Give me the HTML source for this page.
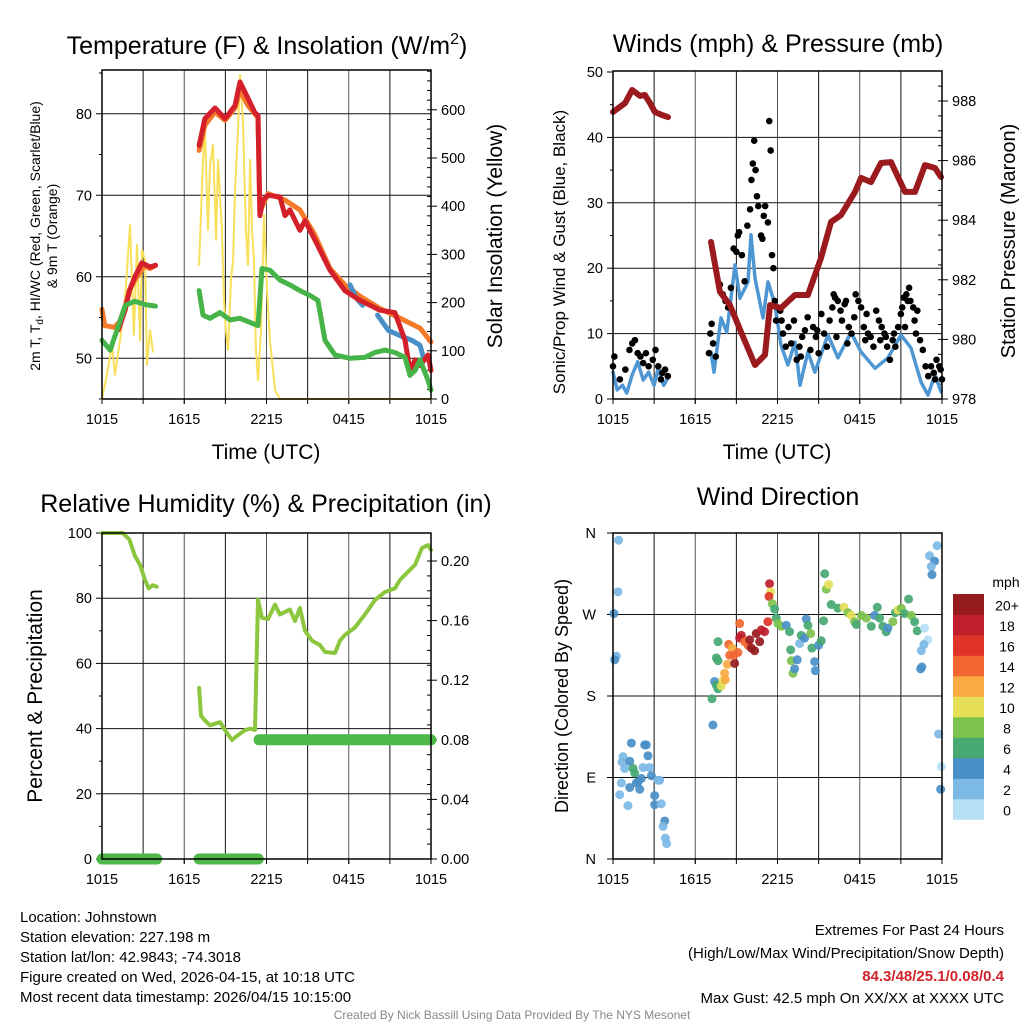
<!DOCTYPE html>
<html><head><meta charset="utf-8"><title>Mesonet Johnstown</title>
<style>
html,body{margin:0;padding:0;background:#fff;width:1024px;height:1024px;overflow:hidden}
svg{display:block;font-family:"Liberation Sans",Arial,sans-serif}
</style></head><body>
<svg id="fig" width="1024" height="1024" viewBox="0 0 1024 1024" xmlns="http://www.w3.org/2000/svg">
<g id="p1"></g>
<g id="p2"></g>
<g id="p3"></g>
<g id="p4"></g>
<g id="txt" font-size="15" fill="#000">
<text x="20" y="922">Location: Johnstown</text>
<text x="20" y="942">Station elevation: 227.198 m</text>
<text x="20" y="962">Station lat/lon: 42.9843; -74.3018</text>
<text x="20" y="982">Figure created on Wed, 2026-04-15, at 10:18 UTC</text>
<text x="20" y="1002">Most recent data timestamp: 2026/04/15 10:15:00</text>
<text x="1004" y="935" text-anchor="end">Extremes For Past 24 Hours</text>
<text x="1004" y="958" text-anchor="end">(High/Low/Max Wind/Precipitation/Snow Depth)</text>
<text x="1004" y="981" text-anchor="end" fill="#d0232a" font-weight="bold">84.3/48/25.1/0.08/0.4</text>
<text x="1004" y="1003" text-anchor="end">Max Gust: 42.5 mph On XX/XX at XXXX UTC</text>
<text x="512" y="1019" text-anchor="middle" font-size="12" fill="#888">Created By Nick Bassill Using Data Provided By The NYS Mesonet</text>
</g>
</svg>
<script>
// ---- shared time axis ----
const xTickHours=[0,6,12,18,24];
const xTickLabels=["1015","1615","2215","0415","1015"];
// ---- panel 1 data (hours since 1015 UTC) ----
const t9mA=[0,0.2,0.9,1.3,1.7,2.0,2.4,2.8,3.1,3.5,3.9];
const v9mA=[56,54,53.8,54.5,56.5,58.3,59.6,60.6,61.4,61,61.4];
const t9mB=[7.08,7.51,8.24,8.97,9.7,10.07,10.65,11.38,11.52,12.11,13.35,14.44,15.54,16.63,17.72,18.82,20.28,21.74,23.2,24];
const v9mB=[75.5,78.6,80.2,79.2,80.7,82.9,81,79.5,68,70.2,69.4,68.2,65.1,61,59,57.6,56.1,54.9,53.7,52];
const tTA=[1.2,1.7,2.0,2.4,2.9,3.5,3.9];
const vTA=[53.5,56,58.3,60,61.7,61.2,61.4];
const tTB=[7.08,7.51,8.24,8.97,9.7,10.07,10.65,11.16,11.38,11.52,11.74,12.11,12.98,13.35,13.71,14.44,14.81,15.54,16.63,17.72,18.82,19.55,20.28,21.37,22.1,22.47,22.83,23.2,23.78,24];
const vTB=[76.1,79.4,80.7,79.4,81,83.9,81.9,80.1,79.8,67.5,69.4,70,69.8,67.5,68.2,65.7,66.9,64.5,60.8,58.3,57.1,56.5,55.9,55.6,52.2,48.5,49.8,49.1,50.4,48.5];
const tTdA=[0,0.6,1.2,1.7,2.4,3.1,3.9];
const vTdA=[52.2,51,54,56.5,57,56.6,56.4];
const tTdB=[7.08,7.37,7.88,8.61,9.34,10.07,10.8,11.38,11.67,12.25,12.98,13.71,14.44,15.17,15.75,16.27,17,18.09,19.18,19.91,20.64,21.37,22.1,22.47,22.83,23.2,23.78,24];
const vTdB=[58.3,55.3,54.9,55.6,54.7,54.9,54.4,54,61,60.8,59.6,59,58.3,57.7,57.1,52.2,50.4,50,50.1,50.7,51,50.7,50.1,47.9,48.5,49.8,47.3,46.1];
const tHIA=[18.1,18.5,19.0];
const vHIA=[59,57.5,56.5];
const tHIB=[20.1,20.9,21.7,22.6,23.2,23.5];
const vHIB=[55.3,53.4,52.8,52.2,51.6,49.8];
const tSolA=[0,0.36,0.73,0.95,1.31,1.68,2.04,2.33,2.55,2.77,2.92,3.14,3.28,3.5,3.72];
const vSolA=[0,50,112,50,122,205,361,133,320,122,309,288,71,143,98];
const tSolB=[7.08,7.37,7.51,7.73,7.88,8.1,8.32,8.46,8.75,8.9,9.04,9.19,9.41,9.56,9.7,9.92,10.07,10.28,10.5,10.65,10.8,10.94,11.09,11.23,11.38,11.6,11.82,12.04,12.25,12.62,12.98,24];
const vSolB=[278,496,558,351,485,527,330,496,351,205,143,102,247,288,434,558,672,579,351,278,496,351,288,102,39,143,382,226,122,19,0,0];
// ---- panel 2 data ----
const tPresA=[0,0.88,1.39,1.97,2.33,2.7,3.06,3.57,4.01];
const vPresA=[987.63,987.93,988.37,988.17,988.2,987.93,987.63,987.53,987.46];
const tPresB=[7.15,7.8,8.53,9.34,10.36,11.09,11.45,12.25,13.28,14.22,15.17,15.9,16.63,17.65,18.09,18.82,19.55,20.28,21.3,22.03,22.76,23.49,23.93];
const vPresB=[983.27,981.6,981.15,980.25,979.14,979.48,981.15,981.05,981.49,981.49,982.73,983.94,984.17,984.95,985.42,985.28,985.92,985.95,984.95,984.95,985.85,985.75,985.45];
const tWindA=[0,0.3,0.7,1.0,1.4,1.8,2.2,2.6,3.0,3.3,3.7,4.0];
const vWindA=[4.1,1.4,2.1,0.9,3.7,5.7,2.9,4.1,2.1,4.7,2.1,3.2];
const tWindB=[7.15,7.37,7.88,8.3,8.9,9.26,9.85,10.07,10.36,10.94,11.31,11.82,12.25,12.76,13.28,13.64,14.22,14.73,15.68,16.41,17.36,18.09,19.11,20.06,21.01,21.74,22.47,22.98,23.49,23.93];
const vWindB=[7.2,4.1,12.4,10.2,20.5,15.4,17.9,25.1,18.5,12.4,17.9,14.4,8.3,5.2,8.7,2.1,7.2,4.1,9.8,6.3,10.2,7.2,4.7,6.3,9.8,7.8,2.6,0.6,3.7,1.1];
const tGust=[0,0.1,0.5,0.9,1.2,1.4,1.6,1.8,2.0,2.2,2.4,2.6,2.9,3.1,3.3,3.5,3.6,3.8,4.0,
7.0,7.1,7.2,7.3,7.5,7.8,8.0,8.2,8.4,8.6,8.8,9.0,9.1,9.2,9.4,9.6,9.8,10.0,10.1,10.2,10.3,10.4,10.5,10.6,10.8,10.9,11.0,11.1,11.3,11.4,11.5,11.6,11.7,11.8,11.9,12.0,12.2,12.3,12.4,12.6,12.8,13.0,13.2,13.4,13.6,13.7,13.8,14.0,14.2,14.4,14.6,14.8,14.9,15.0,15.2,15.4,15.6,15.8,16.0,16.1,16.2,16.3,16.4,16.6,16.7,16.9,17.0,17.1,17.2,17.4,17.6,17.7,17.9,18.1,18.3,18.4,18.5,18.6,18.8,19.0,19.2,19.4,19.5,19.6,19.8,19.9,20.0,20.2,20.4,20.5,20.6,20.8,21.0,21.1,21.2,21.3,21.4,21.5,21.6,21.7,21.9,22.0,22.1,22.2,22.4,22.6,22.8,23.0,23.2,23.4,23.5,23.6,23.8,23.9,24.0];
const vGust=[5,6.5,3,4.5,7.5,8.5,9,7,6.5,5.5,7,5,6,7.5,5,3,4,4.5,3.5,
7,10,11.5,8.5,6.5,17.5,16,15,14,17,23,22.5,25,25.5,22,18,26.5,29,33.5,36,39.5,35,31,29.5,25,24.5,28,29.5,27,42.5,38,22,20,15,12,14,13.5,12,10,8,11,8.5,12,6,8,6.5,9.5,10.5,12.5,7.5,11,9.5,10.5,7,13,10,8,12,14,16,15.5,9.5,15,13.5,12,14.5,15,8.5,11,10,12.5,16,15,14,11,9,13,10,9.5,8,13.5,12,9,11,10,9.5,8,6,9,10,8,11,13,14,15.5,11,16,15,17,15,14,12,10,13.5,9,7.5,5,3.5,5,4,3,6,5,4.5,3];
// ---- panel 3 data ----
const tRHA=[0,1.5,2.0,2.4,2.8,3.1,3.4,3.7,4.0];
const vRHA=[100,100,98,93,90,86,83,84,83.5];
const tRHB=[7.08,7.22,7.51,7.88,8.24,8.61,8.97,9.48,9.92,10.43,10.8,11.16,11.38,11.67,12.11,12.62,12.98,13.35,13.71,14.08,14.44,14.81,15.32,15.9,16.27,17,17.36,17.72,18.45,19.18,19.91,20.64,21.37,21.74,22.47,22.83,23.34,23.78,24];
const vRHB=[52.5,44,42.5,41,41.5,42,39.5,36.5,38,39.5,40,39.6,79.5,74,73.6,78,75,75.8,76.5,73,77,70,67,65.6,63.5,63.2,67,68.7,71,75,79.4,81.9,83,85.6,88.7,90.2,95.4,96.3,94.8];
const tPrecip=[0,4,7.08,11.4,11.45,24];
const vPrecip=[0,0,0,0,0.08,0.08];
// ---- panel 4 data: time, direction (deg), speed (mph) ----
const tDir=[0.41,0.36,0.07,0.24,0.12,1.34,0.73,0.66,0.85,1.22,1.46,1.58,2.31,2.43,2.55,2.19,2.67,1.82,2.07,1.70,2.80,3.28,3.40,0.61,0.49,1.09,1.22,1.95,3.04,3.04,3.52,3.77,3.65,3.82,3.91,
7.29,7.22,7.41,7.54,7.66,7.90,8.02,8.14,8.19,8.34,8.87,7.54,7.66,7.66,8.44,8.68,8.51,8.82,9.11,9.24,9.36,9.24,9.60,9.85,9.97,10.09,10.33,10.45,10.70,10.82,11.06,11.30,11.42,11.50,11.38,11.62,11.79,11.91,12.03,12.28,12.64,12.88,12.96,13.01,13.13,13.25,13.44,13.61,13.73,13.98,14.10,14.22,14.42,14.51,14.71,14.76,15.00,15.19,15.36,15.44,15.56,15.73,15.92,16.41,16.85,17.14,17.38,17.62,17.75,18.11,18.48,18.84,19.08,19.28,19.45,19.69,19.93,20.05,20.42,20.59,20.78,21.03,21.27,21.56,21.76,22.00,22.19,22.73,22.97,22.68,22.49,22.44,22.53,23.09,23.65,23.46,23.22,23.27,23.75,23.95,23.90];
const dDir=[352,295,271,224,220,128,113,107,100,108,100,95,126,126,114,101,101,85,89,84,92,87,87,84,71,59,79,77,70,60,61,42,36,23,17,
148,177,196,192,188,191,197,205,198,215,216,222,219,240,237,233,225,225,228,260,247,244,240,236,242,233,230,249,240,253,251,262,304,295,290,282,276,266,260,257,258,251,231,219,205,210,220,238,247,244,265,258,249,233,218,208,236,241,263,315,298,303,281,277,278,272,269,262,259,269,266,257,269,278,266,257,251,255,262,272,275,277,271,287,269,262,252,255,242,237,230,210,212,335,346,329,323,314,138,102,77];
const sDir=[3,3,5,3,5,5,3,3,3,5,7,7,5,5,5,3,3,5,5,5,5,3,3,3,3,3,5,5,5,5,3,5,3,3,3,
5,7,5,7,7,11,11,13,13,13,21,7,7,7,15,13,15,15,15,15,19,19,15,15,21,21,21,21,21,19,19,17,19,11,17,9,7,7,9,9,5,7,7,9,9,5,5,3,7,5,5,7,9,7,5,5,5,7,7,7,9,11,7,7,11,9,11,9,7,9,9,7,5,7,7,7,7,5,9,7,11,9,7,7,9,7,7,1,1,3,3,5,5,3,3,5,3,5,3,1,5];
const cbLabels=["0","2","4","6","8","10","12","14","16","18","20+"];
const cbColors=["#b6e0f6","#7cb9e5","#4a8fc7","#47a872","#7dc24d","#e5df58","#f9aa42","#f16630","#df3427","#bf1e2d","#951b1e"];

const NS="http://www.w3.org/2000/svg";
function el(parent,tag,attrs){const e=document.createElementNS(NS,tag);for(const k in attrs)e.setAttribute(k,attrs[k]);parent.appendChild(e);return e;}
function txt(parent,x,y,s,attrs){const e=el(parent,"text",Object.assign({x:x,y:y},attrs||{}));e.textContent=s;return e;}

function panel(g,X0,X1,Y0,Y1){
  const xs=t=>X0+t*(X1-X0)/24;
  for(let h=3;h<24;h+=3){const l=el(g,"line",{x1:xs(h),x2:xs(h),y1:Y0,y2:Y1,stroke:(h%6==0?"#555":"#111"),"stroke-width":1});
    
    }
  xTickHours.forEach((h,i)=>{el(g,"line",{x1:xs(h),x2:xs(h),y1:Y1,y2:Y1+5,stroke:"#000"});
    const t=txt(g,xs(h),Y1+25,xTickLabels[i],{"font-size":"14.5","text-anchor":"middle"});
    
    });
  for(let h=3;h<24;h+=3){el(g,"line",{x1:xs(h),x2:xs(h),y1:Y1,y2:Y1+5,stroke:"#000"});}
  return xs;
}
function hgrid(g,X0,X1,ys){ys.forEach(y=>{const l=el(g,"line",{x1:X0,x2:X1,y1:y,y2:y,stroke:"#111","stroke-width":1});
  
  });}
function frame(g,X0,X1,Y0,Y1){const r=el(g,"rect",{x:X0,y:Y0,width:X1-X0,height:Y1-Y0,fill:"none",stroke:"#000","stroke-width":1.5});
  
  }
function series(g,ts,vs,xs,ys,color,w,name){
  const d=ts.map((t,i)=>(i?"L":"M")+xs(t).toFixed(1)+","+ys(vs[i]).toFixed(1)).join("");
  const p=el(g,"path",{d:d,fill:"none",stroke:color,"stroke-width":w,"stroke-linejoin":"round","stroke-linecap":"round"});
  
  
  return p;}
function leftTicks(g,X,vals,ys,fmt,minor){
  vals.forEach(v=>{el(g,"line",{x1:X-6,x2:X,y1:ys(v),y2:ys(v),stroke:"#000"});
    const t=txt(g,X-10,ys(v)+5,fmt(v),{"font-size":"14.5","text-anchor":"end"});
    
    });
  (minor||[]).forEach(v=>el(g,"line",{x1:X-3,x2:X,y1:ys(v),y2:ys(v),stroke:"#000"}));}
function rightTicks(g,X,vals,ys,fmt,minor){
  vals.forEach(v=>{el(g,"line",{x1:X,x2:X+6,y1:ys(v),y2:ys(v),stroke:"#000"});
    const t=txt(g,X+10,ys(v)+5,fmt(v),{"font-size":"14.5","text-anchor":"start"});
    
    });
  (minor||[]).forEach(v=>el(g,"line",{x1:X-4,x2:X,y1:ys(v),y2:ys(v),stroke:"#000"}));}
function range(a,b,s){const r=[];for(let v=a;v<=b+1e-9;v+=s)r.push(+v.toFixed(4));return r;}

// ===== Panel 1 =====
(function(){
 const g=document.getElementById("p1");const X0=102,X1=431,Y0=70,Y1=399;
 const yT=v=>Y1-(v-45)*8.15, yS=v=>Y1-v*0.482;
 const xs=panel(g,X0,X1,Y0,Y1);
 hgrid(g,X0,X1,[50,60,70,80].map(yT));
 leftTicks(g,X0,[50,60,70,80],yT,v=>String(v),[45,55,65,75,85]);
 rightTicks(g,X1,range(0,600,100),yS,v=>String(v),range(20,680,20));
 series(g,tSolA,vSolA,xs,yS,"#f9e05a",2,"solar-line");
 series(g,tSolB,vSolB,xs,yS,"#f9e05a",2,"solar-line");
 series(g,t9mA,v9mA,xs,yT,"#f47a2a",5,"temp-9m-line");
 series(g,t9mB,v9mB,xs,yT,"#f47a2a",5,"temp-9m-line");
 series(g,tHIA,vHIA,xs,yT,"#4a90c8",5,"heat-index-line");
 series(g,tHIB,vHIB,xs,yT,"#4a90c8",5,"heat-index-line");
 series(g,tTA,vTA,xs,yT,"#d4202a",5,"temp-2m-line");
 series(g,tTB,vTB,xs,yT,"#d4202a",5,"temp-2m-line");
 series(g,tTdA,vTdA,xs,yT,"#46b449",5,"dewpoint-line");
 series(g,tTdB,vTdB,xs,yT,"#46b449",5,"dewpoint-line");
 frame(g,X0,X1,Y0,Y1);
 const tt=txt(g,267,54,"Temperature (F) & Insolation (W/m",{"font-size":"25","text-anchor":"middle"});
 const sup=el(tt,"tspan",{dy:"-10","font-size":"16"});sup.textContent="2";
 const cl=el(tt,"tspan",{dy:"10"});cl.textContent=")";
 
 txt(g,266,459,"Time (UTC)",{"font-size":"21","text-anchor":"middle",});
 const yl=txt(g,0,0,"",{"font-size":"14","text-anchor":"middle",transform:"translate(40,236) rotate(-90)",});
 yl.innerHTML='2m T, T<tspan font-size="10" dy="3">d</tspan><tspan dy="-3">, HI/WC (Red, Green, Scarlet/Blue)</tspan>';
 txt(g,0,0,"& 9m T (Orange)",{"font-size":"14","text-anchor":"middle",transform:"translate(57,236) rotate(-90)",});
 txt(g,0,0,"Solar Insolation (Yellow)",{"font-size":"21","text-anchor":"middle",transform:"translate(502,236) rotate(-90)",});
})();

// ===== Panel 2 =====
(function(){
 const g=document.getElementById("p2");const X0=613,X1=942,Y0=71,Y1=399;
 const yW=v=>Y1-v*6.54, yP=p=>Y1-(p-978)*29.8;
 const xs=panel(g,X0,X1,Y0,Y1);
 hgrid(g,X0,X1,[10,20,30,40].map(yW));
 leftTicks(g,X0,range(0,50,10),yW,v=>String(v),range(5,45,10));
 rightTicks(g,X1,range(978,988,2),yP,v=>String(v),range(978.5,988.5,0.5));
 series(g,tWindA,vWindA,xs,yW,"#4f97d2",3.5,"sonic-wind-line");
 series(g,tWindB,vWindB,xs,yW,"#4f97d2",3.5,"sonic-wind-line");
 tGust.forEach((t,i)=>{const c=el(g,"circle",{cx:xs(t),cy:yW(vGust[i]),r:3.3,fill:"#000"});
   
   });
 series(g,tPresA,vPresA,xs,yP,"#9b1a1e",6,"pressure-line");
 series(g,tPresB,vPresB,xs,yP,"#9b1a1e",6,"pressure-line");
 frame(g,X0,X1,Y0,Y1);
 txt(g,778,52,"Winds (mph) & Pressure (mb)",{"font-size":"25","text-anchor":"middle",});
 txt(g,777,459,"Time (UTC)",{"font-size":"21","text-anchor":"middle",});
 txt(g,0,0,"Sonic/Prop Wind & Gust (Blue, Black)",{"font-size":"17","text-anchor":"middle",transform:"translate(565,252) rotate(-90)",});
 txt(g,0,0,"Station Pressure (Maroon)",{"font-size":"20","text-anchor":"middle",transform:"translate(1015,241) rotate(-90)",});
})();

// ===== Panel 3 =====
(function(){
 const g=document.getElementById("p3");const X0=102,X1=431,Y0=533,Y1=859;
 const yR=v=>Y1-v*3.26, yPr=v=>Y1-v*1490;
 const xs=panel(g,X0,X1,Y0,Y1);
 hgrid(g,X0,X1,[20,40,60,80].map(yR));
 leftTicks(g,X0,range(0,100,20),yR,v=>String(v),range(10,90,20));
 rightTicks(g,X1,range(0,0.2,0.04),yPr,v=>v.toFixed(2),range(0.01,0.21,0.01));
 series(g,tPrecip.slice(0,2),vPrecip.slice(0,2),xs,yPr,"#4db848",11,"precip-line");
 series(g,tPrecip.slice(2,4),vPrecip.slice(2,4),xs,yPr,"#4db848",11,"precip-line");
 series(g,tPrecip.slice(4),vPrecip.slice(4),xs,yPr,"#4db848",11,"precip-line");
 series(g,tRHA,vRHA,xs,yR,"#8cc63e",4,"rh-line");
 series(g,tRHB,vRHB,xs,yR,"#8cc63e",4,"rh-line");
 frame(g,X0,X1,Y0,Y1);
 txt(g,266,512,"Relative Humidity (%) & Precipitation (in)",{"font-size":"25","text-anchor":"middle",});
 txt(g,0,0,"Percent & Precipitation",{"font-size":"21","text-anchor":"middle",transform:"translate(42,696) rotate(-90)",});
})();

// ===== Panel 4 =====
(function(){
 const g=document.getElementById("p4");const X0=613,X1=942,Y0=533,Y1=859;
 const yD=d=>Y1-d*(Y1-Y0)/360;
 const xs=panel(g,X0,X1,Y0,Y1);
 hgrid(g,X0,X1,[90,180,270].map(yD));
 const dl=["N","E","S","W","N"];
 [0,90,180,270,360].forEach((d,i)=>{el(g,"line",{x1:X0-6,x2:X0,y1:yD(d),y2:yD(d),stroke:"#000"});
   const t=txt(g,X0-17,yD(d)+5,dl[i],{"font-size":"14.5","text-anchor":"end"});
   
   });
 tDir.forEach((t,i)=>{const k=Math.min(10,Math.floor(sDir[i]/2));
   const c=el(g,"circle",{cx:xs(t),cy:yD(dDir[i]),r:4.5,fill:cbColors[k],"fill-opacity":0.92});
   
   });
 frame(g,X0,X1,Y0,Y1);
 txt(g,778,505,"Wind Direction",{"font-size":"25","text-anchor":"middle",});
 txt(g,0,0,"Direction (Colored By Speed)",{"font-size":"18","text-anchor":"middle",transform:"translate(568,696) rotate(-90)",});
 const cb=el(g,"g",{});
 
 
 const top=594,h=20.5;
 txt(cb,1006,587,"mph",{"font-size":"14","text-anchor":"middle"});
 cbColors.forEach((c,i)=>{const yy=top+(10-i)*h;
   const r=el(cb,"rect",{x:953,y:yy,width:31,height:h+0.3,fill:c});
   
   
   const t=txt(cb,1007,yy+h/2+6,cbLabels[i],{"font-size":"14","text-anchor":"middle"});
   
   });
})();
</script>
</body></html>
